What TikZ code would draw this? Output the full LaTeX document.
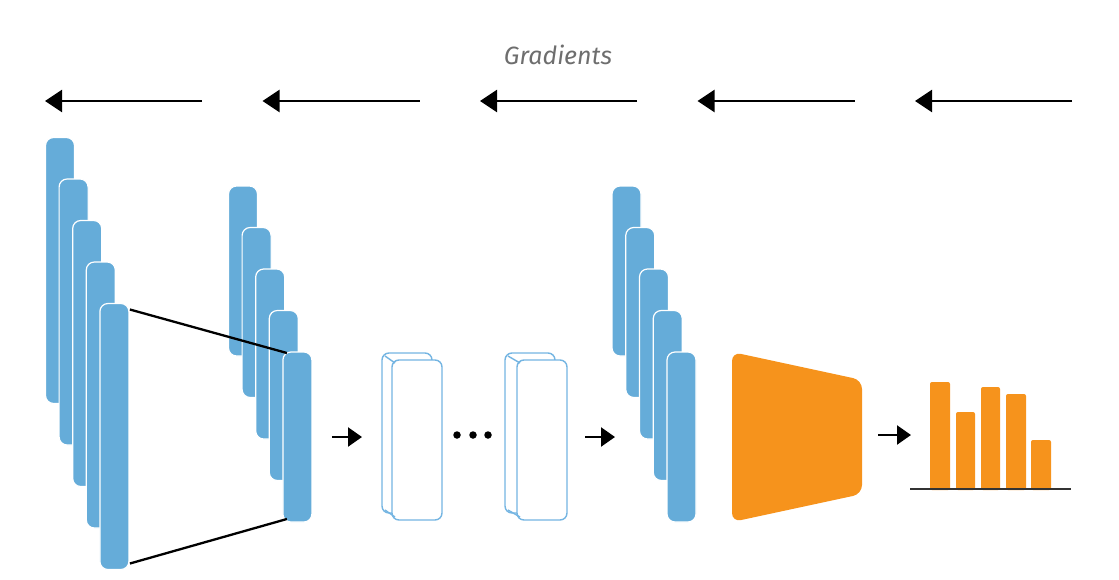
\documentclass[tikz,border=0pt]{standalone}
\usepackage{fontspec}
\newfontfamily\labelfont{Fira Sans}
\usepackage{tikz}
\usetikzlibrary{arrows.meta,positioning,calc}
\usepackage{xcolor}
\definecolor{layerblue}{HTML}{65ACD9}
\definecolor{outlineblue}{HTML}{74B5E2}
\definecolor{headorange}{HTML}{F6931C}
\definecolor{textgray}{HTML}{6E6E6E}

\tikzset{
    bluebar/.style={rectangle, draw=white, line width=1.2pt, fill=layerblue, rounded corners=8pt, minimum width=29pt, inner sep=0pt, outer sep=0pt},
    hollowbox/.style={rectangle, draw=outlineblue, line width=1.4pt, fill=white, rounded corners=7pt, minimum width=50pt, minimum height=160pt, inner sep=0pt, outer sep=0pt},
    smallarrow/.style={-{Triangle[length=14pt,width=19pt]}, line width=2.3pt, black},
    gradarrow/.style={-{Triangle[length=17pt,width=22pt]}, line width=2.2pt, black},
    dotnode/.style={circle, fill=black, minimum size=7.5pt, inner sep=0pt},
    chartbar/.style={fill=headorange, rounded corners=2pt}
}

\begin{document}
\begin{tikzpicture}[x=1pt, y=-1pt]
    \useasboundingbox (0,0) rectangle (1119,579);

    \node[font=\labelfont\itshape\fontsize{25}{30}\selectfont, textgray] (title) at (558, 55) {Gradients};

    % Gradient arrows, right to left
    \foreach \i in {0,...,4} {
        \coordinate (gs\i) at (202+217.5*\i, 101);
        \coordinate (ge\i) at (45+217.5*\i, 101);
        \draw[gradarrow] (gs\i) -- (ge\i);
    }

    % First stack of layers
    \foreach \i in {0,...,4}
        \node[bluebar, minimum height=266pt] (a\i) at (60+13.6*\i, 270.5+41.5*\i) {};

    % Second stack of layers
    \foreach \i in {0,...,4}
        \node[bluebar, minimum height=170pt] (b\i) at (243+13.6*\i, 271+41.5*\i) {};

    % Projection lines
    \draw[line width=2.3pt] ([xshift=1pt, yshift=-6pt]a4.north east) -- ([xshift=4pt, yshift=-1pt]b4.north west);
    \draw[line width=2.3pt] ([xshift=1pt, yshift=6pt]a4.south east) -- ([xshift=4pt, yshift=3pt]b4.south west);

    % Hidden layers (outlined)
    \node[hollowbox] (c1back) at (407, 433) {};
    \node[hollowbox] (c1) at (417, 440) {};
    \draw[outlineblue, line width=1.4pt] ([xshift=3pt, yshift=-3pt]c1back.north west) -- ([xshift=3pt, yshift=-3pt]c1.north west);
    \draw[outlineblue, line width=1.4pt] ([xshift=3pt, yshift=3pt]c1back.south west) -- ([xshift=3pt, yshift=3pt]c1.south west);

    \node[hollowbox] (c2back) at (530, 433) {};
    \node[hollowbox] (c2) at (542, 440) {};
    \draw[outlineblue, line width=1.4pt] ([xshift=3pt, yshift=-3pt]c2back.north west) -- ([xshift=3pt, yshift=-3pt]c2.north west);
    \draw[outlineblue, line width=1.4pt] ([xshift=3pt, yshift=3pt]c2back.south west) -- ([xshift=3pt, yshift=3pt]c2.south west);

    \node[dotnode] (d1) at (457, 435) {};
    \node[dotnode] (d2) at (473, 435) {};
    \node[dotnode] (d3) at (488, 435) {};

    % Third stack of layers
    \foreach \i in {0,...,4}
        \node[bluebar, minimum height=170pt] (e\i) at (626.5+13.75*\i, 271+41.5*\i) {};

    % Classifier head
    \fill[headorange, rounded corners=9pt] (732,352) -- (862,380) -- (862,494) -- (732,522) -- cycle;
    \coordinate (head) at (862, 435);

    % Output distribution
    \coordinate (base) at (910, 489);
    \fill[chartbar] (930,382) rectangle (950,490);
    \fill[chartbar] (956,412) rectangle (975,490);
    \fill[chartbar] (981,387) rectangle (1000,490);
    \fill[chartbar] (1006,394) rectangle (1026,490);
    \fill[chartbar] (1031,440) rectangle (1051,490);
    \coordinate (baseend) at (1071, 489);
    \draw[line width=2.2pt, black!80] (base) -- (baseend);

    % Forward arrows
    \draw[smallarrow, shorten <=20pt, shorten >=20pt] (b4.east) -- (b4.east -| c1back.west);
    \draw[smallarrow, shorten <=18pt] (c2.east |- b4.east) -- (615, 437);
    \draw[smallarrow, shorten <=16pt] (head) -- (911, 435);
\end{tikzpicture}
\end{document}
